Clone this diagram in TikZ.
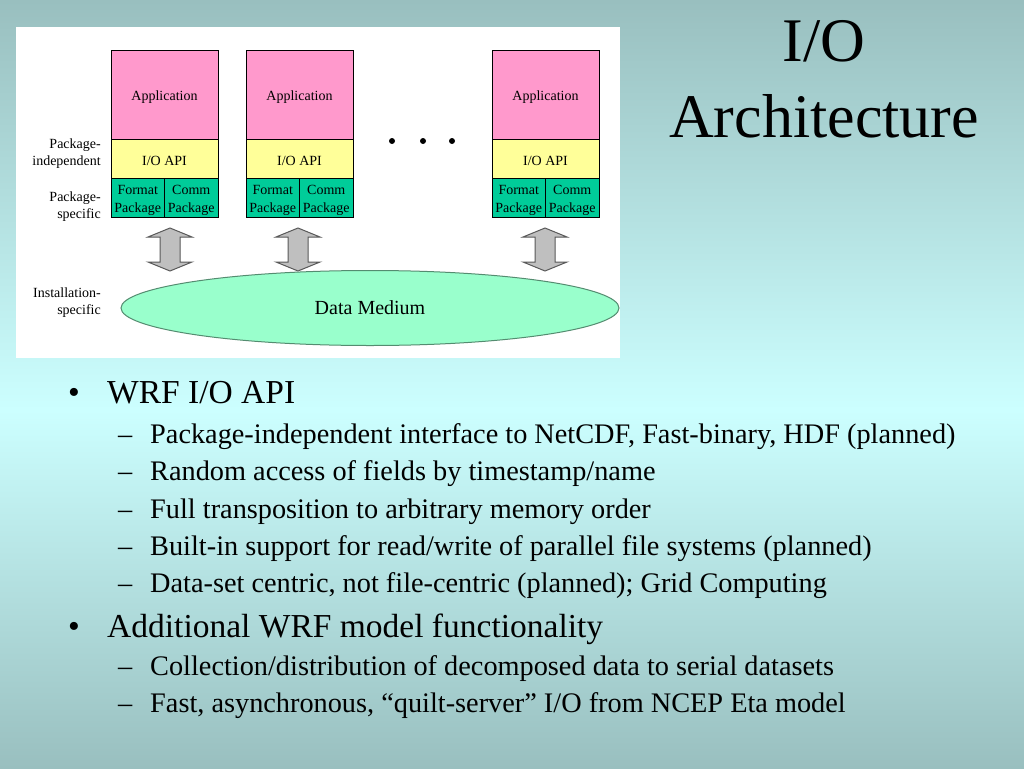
\documentclass[tikz,border=0pt]{standalone}
\usepackage{fontspec}
\setmainfont{Liberation Serif}
\usetikzlibrary{shapes.geometric}
\definecolor{bgedge}{RGB}{153,191,191}
\definecolor{bgmid}{RGB}{204,255,255}
\definecolor{appfill}{RGB}{255,153,204}
\definecolor{apifill}{RGB}{255,255,153}
\definecolor{pkgfill}{RGB}{0,204,153}
\definecolor{mediumfill}{RGB}{153,255,204}
\newcommand{\dropline}[1]{\raisebox{-2.5pt}[\height][\depth]{#1}}
\tikzset{layer/.style={draw=black, line width=1pt, inner sep=0pt, outer sep=0pt, align=center, font=\fontsize{14}{18}\selectfont},
%labels on the left of the stacks
sidelabel/.style={anchor=base east, inner sep=0pt, font=\fontsize{14}{17}\selectfont},
updown/.style={draw=black!65, fill=black!25, line width=1pt, line join=miter},
blob/.style={circle, fill=black, inner sep=0pt, minimum size=6pt},
mainitem/.style={anchor=base west, inner sep=0pt, font=\fontsize{33.5}{40}\selectfont},
subitem/.style={anchor=base west, inner sep=0pt, font=\fontsize{28.3}{34}\selectfont}}

\begin{document}
\begin{tikzpicture}[x=1pt,y=-1pt]

    \useasboundingbox (0,0) rectangle (1024,768);
    \shade[top color=bgedge, bottom color=bgmid] (0,0) rectangle (1024,410);
    \shade[top color=bgmid, bottom color=bgedge] (0,410) rectangle (1024,768);

    \fill[white] (16,27) rectangle (620,358);

    % title
    \node[anchor=base, inner sep=0pt, font=\fontsize{62}{75}\selectfont] (title1) at (824,62) {I/O};
    \node[anchor=base, inner sep=0pt, font=\fontsize{62}{75}\selectfont] (title2) at (824,137) {Architecture};

    % the three stacks
    \foreach \n/\x/\ax in {1/111/170, 2/246/298, 3/492/545}
    {
    \node[layer, fill=appfill, minimum width=107pt, minimum height=88pt, anchor=north west] (app\n) at (\x,51) {\dropline{Application}};
    \node[layer, fill=apifill, minimum width=107pt, minimum height=39pt, anchor=north west] (api\n) at (app\n.south west) {\dropline{I/O API}};
    \node[layer, fill=pkgfill, minimum width=53.5pt, minimum height=39pt, anchor=north west] (fmt\n) at (api\n.south west) {\dropline{Format}\\\dropline{Package}};
    \node[layer, fill=pkgfill, minimum width=53.5pt, minimum height=39pt, anchor=north west] (comm\n) at (fmt\n.north east) {\dropline{Comm}\\\dropline{Package}};
    \coordinate (link\n) at (\ax,249.5);
    \draw[updown, shift={(link\n)}] (0,-21.5) -- (22,-12.5) -- (10,-12.5) -- (10,12.5) -- (22,12.5) -- (0,21.5)
      -- (-22,12.5) -- (-10,12.5) -- (-10,-12.5) -- (-22,-12.5) -- cycle;
    }

    \foreach \i/\x in {1/392, 2/423, 3/452}
    \node[blob] (dot\i) at (\x,141) {};

    \node[ellipse, draw=black!45!mediumfill, line width=1pt, fill=mediumfill, minimum width=498pt, minimum height=75pt, inner sep=0pt, font=\fontsize{20}{24}\selectfont] (medium) at (370,308) {Data Medium};

    \foreach \t/\y [count=\k] in {Package-/148, independent/165, Package-/201, specific/218, Installation-/297, specific/314}
    \node[sidelabel] (side\k) at (101,\y) {\t};

    % bullets
    \node[mainitem] (wrf) at (68,403) {•};
    \node[mainitem] (wrftext) at (107,403) {WRF I/O API};
    \foreach \t/\y [count=\k] in {{Package-independent interface to NetCDF, Fast-binary, HDF (planned)}/443,
      {Random access of fields by timestamp/name}/480,
      {Full transposition to arbitrary memory order}/518,
      {Built-in support for read/write of parallel file systems (planned)}/555,
      {Data-set centric, not file-centric (planned); Grid Computing}/592}
    {
    \node[subitem] (wrfdash\k) at (118,\y) {–};
    \node[subitem] (wrfsub\k) at (150,\y) {\t};
    }

    \node[mainitem] (extra) at (68,637) {•};
    \node[mainitem] (extratext) at (107,637) {Additional WRF model functionality};
    \foreach \t/\y [count=\k] in {{Collection/distribution of decomposed data to serial datasets}/675,
      {Fast, asynchronous, “quilt-server” I/O from NCEP Eta model}/712}
    {
    \node[subitem] (extradash\k) at (118,\y) {–};
    \node[subitem] (extrasub\k) at (150,\y) {\t};
    }

  \end{tikzpicture}
\end{document}
